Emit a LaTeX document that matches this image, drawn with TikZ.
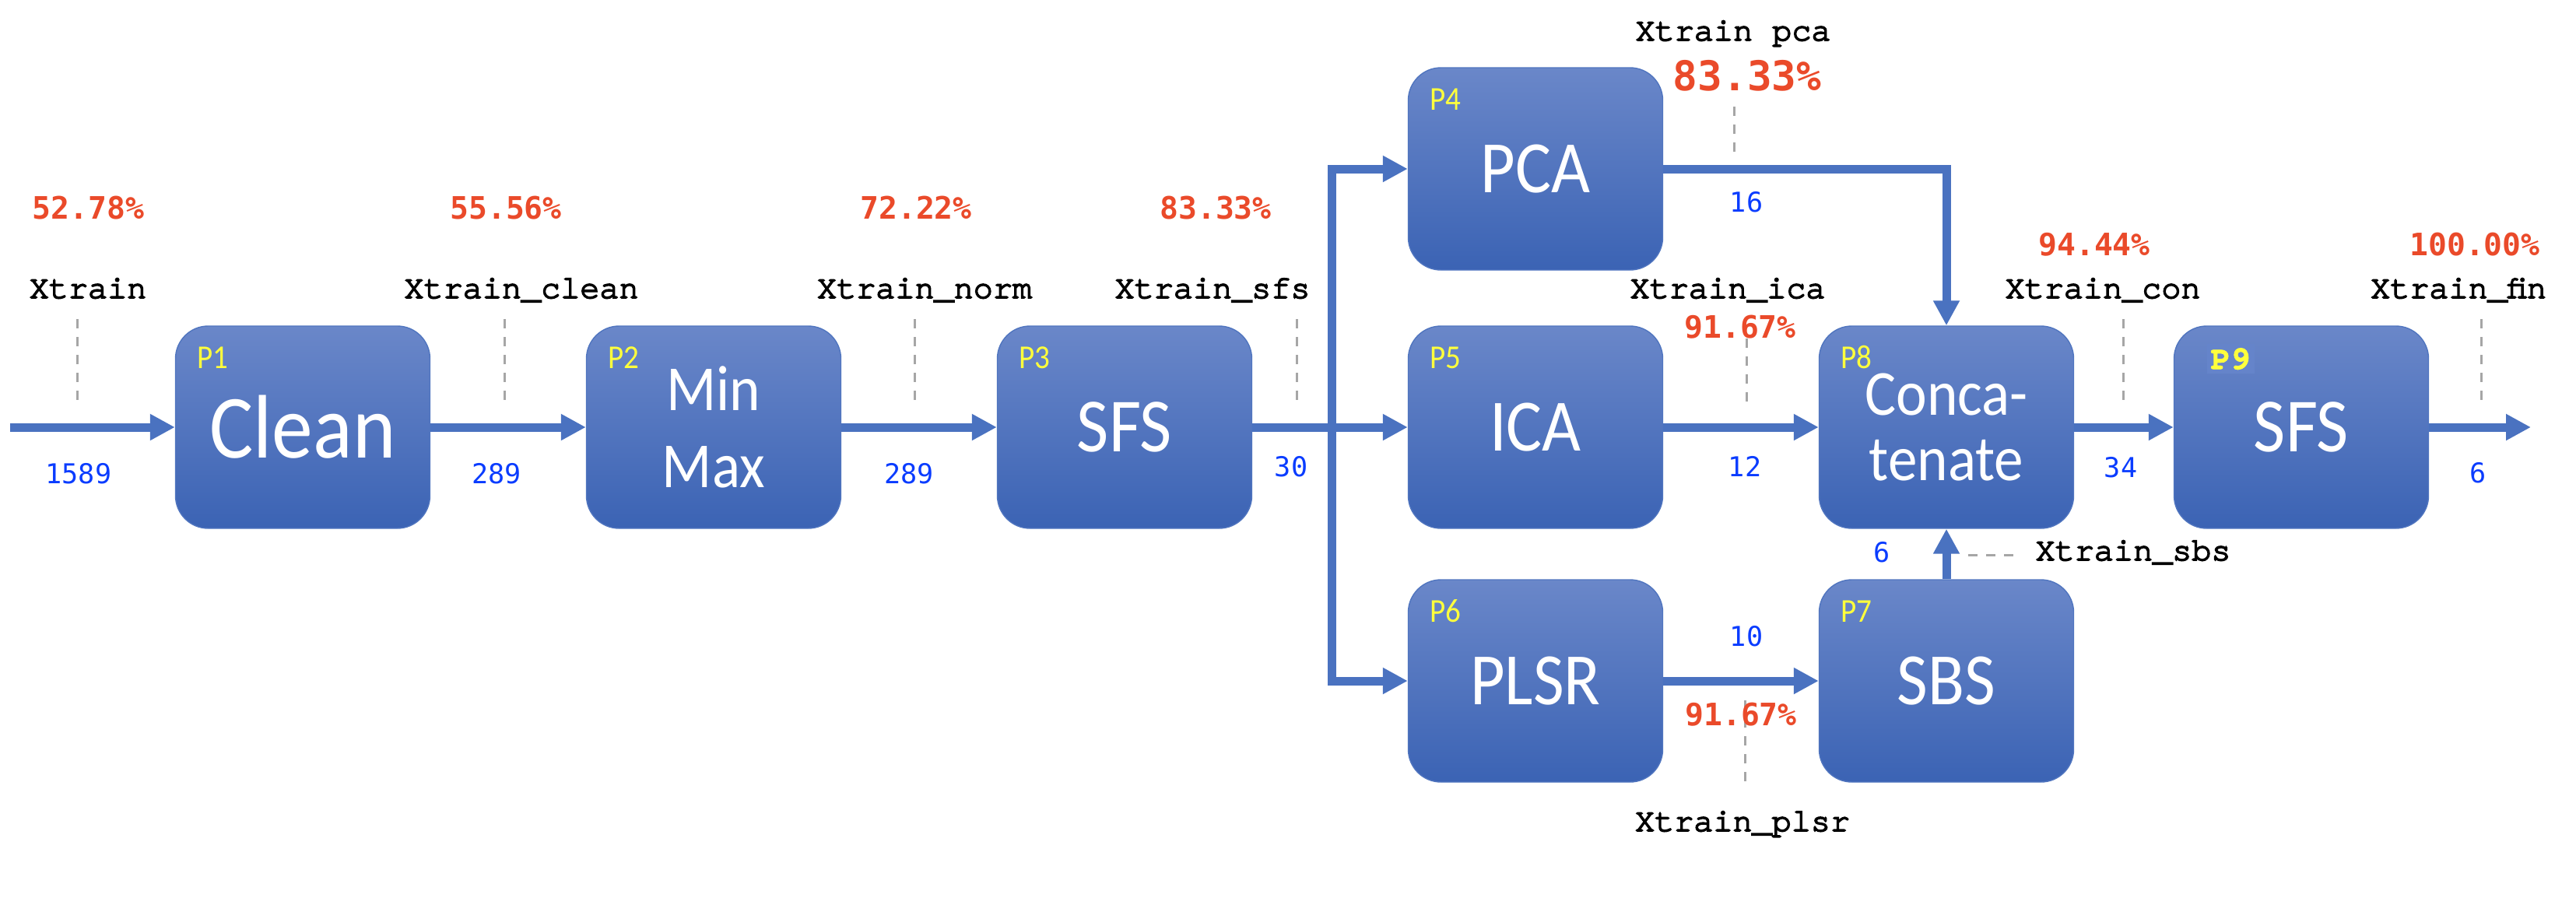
\documentclass[tikz,border=0pt]{standalone}
\usepackage{fontspec}
\usepackage{tikz}
\usetikzlibrary{
  positioning,
  calc,
  arrows.meta
}
\newfontfamily\boxfont[FakeStretch=0.91]{Carlito}
\newfontfamily\numfont{DejaVu Sans Mono}
\newfontfamily\codefont[FakeBold=4]{texgyrecursor-regular.otf}
\newfontfamily\codeboldfont[FakeBold=2]{texgyrecursor-bold.otf}
\definecolor{boxtop}{HTML}{6A87C9}
\definecolor{boxbottom}{HTML}{3B63B4}
\definecolor{boxline}{HTML}{5075BF}
\definecolor{flowblue}{HTML}{4A72C0}
\definecolor{scorered}{HTML}{EA4A2A}
\definecolor{featblue}{HTML}{0A3CFF}
\definecolor{tagyellow}{HTML}{FFFF3C}
\definecolor{tagpatch}{HTML}{6584CA}
\definecolor{guidegray}{HTML}{A6A6A6}
\tikzset{
  procbox/.style={draw=boxline, line width=0.4pt, top color=boxtop, bottom color=boxbottom,
    rounded corners=0.42cm, minimum width=3.27cm, minimum height=2.60cm, inner sep=0pt,
    text=white, align=center, font=\boxfont\fontsize{27}{32}\selectfont},
  ptag/.style={anchor=base west, inner sep=0pt, text=tagyellow, font=\boxfont\fontsize{12.2}{14}\selectfont},
  flow/.style={draw=flowblue, line width=0.11cm, -{Triangle[length=0.32cm,width=0.32cm]}},
  guide/.style={draw=guidegray, line width=0.03cm, dash pattern=on 0.12cm off 0.11cm},
  score/.style={inner sep=0pt, text=scorered, font=\numfont\bfseries\fontsize{11.3}{13}\selectfont},
  featnum/.style={anchor=base, inner sep=0pt, text=featblue, font=\numfont\fontsize{10}{12}\selectfont},
  varname/.style={anchor=base, inner sep=0pt, font=\codefont\fontsize{11.9}{14}\selectfont}
}

\begin{document}
\begin{tikzpicture}
    \def\rowA{9.45}
    \def\rowB{6.13}
    \def\rowC{2.87}
    \useasboundingbox (0,0) rectangle (33.10,11.62);

    % 処理ボックス
    \node[procbox, font=\boxfont\fontsize{33}{38}\selectfont] (clean) at (3.89,\rowB) {Clean};
    \node[procbox, font=\boxfont\fontsize{23.5}{28}\selectfont] (minmax) at (9.17,\rowB) {Min\\Max};
    \node[procbox, font=\boxfont\fontsize{28}{32}\selectfont] (sfsA) at (14.45,\rowB) {SFS};
    \node[procbox] (pca) at (19.73,\rowA) {PCA};
    \node[procbox] (ica) at (19.73,\rowB) {ICA};
    \node[procbox] (plsr) at (19.73,\rowC) {PLSR};
    \node[procbox] (sbs) at (25.01,\rowC) {SBS};
    \node[procbox, font=\boxfont\fontsize{23.5}{24}\selectfont] (concat) at (25.01,\rowB) {Conca-\\tenate};
    \node[procbox, font=\boxfont\fontsize{28}{32}\selectfont] (sfsB) at (29.57,\rowB) {SFS};

    % ボックス番号
    \foreach \nm/\tag in {clean/P1, minmax/P2, sfsA/P3, pca/P4, ica/P5, plsr/P6, sbs/P7, concat/P8}
      \node[ptag] (tag\nm) at ($(\nm.north west)+(0.28,-0.55)$) {\tag};
    \node[ptag, fill=tagpatch, inner sep=1.5pt, font=\codeboldfont\fontsize{12}{14}\selectfont]
      (tagsfsB) at ($(sfsB.north west)+(0.42,-0.56)$) {P9};

    % 点線
    \foreach \n/\x in {a/0.99, b/6.48, c/11.75, d/16.66, e/27.28, f/31.88} {
      \coordinate (g\n top) at (\x,7.52);
      \coordinate (g\n bot) at (\x,6.42);
      \draw[guide] (g\n top) -- (g\n bot);
    }
    \foreach \n/\x/\yt/\yb in {pca/22.28/10.25/9.64, ica/22.44/7.27/6.37, plsr/22.42/2.62/1.50} {
      \coordinate (g\n top) at (\x,\yt);
      \coordinate (g\n bot) at (\x,\yb);
      \draw[guide] (g\n top) -- (g\n bot);
    }
    \coordinate (gsbs left) at (25.29,4.49);
    \coordinate (gsbs right) at (25.87,4.49);
    \draw[guide] (gsbs left) -- (gsbs right);

    % 矢印
    \coordinate (in) at (0.13,\rowB);
    \coordinate (split) at (17.11,\rowB);
    \coordinate (out) at (32.52,\rowB);
    \draw[flow] (in) -- (clean.west);
    \draw[flow] (clean.east) -- (minmax.west);
    \draw[flow] (minmax.east) -- (sfsA.west);
    \draw[flow] (sfsA.east) -- (ica.west);
    \draw[flow] (split) |- (pca.west);
    \draw[flow] (split) |- (plsr.west);
    \draw[flow] (pca.east) -| (concat.north);
    \draw[flow] (ica.east) -- (concat.west);
    \draw[flow] (plsr.east) -- (sbs.west);
    \draw[flow] (sbs.north) -- (concat.south);
    \draw[flow] (concat.east) -- (sfsB.west);
    \draw[flow] (sfsB.east) -- (out);

    % 精度
    \node[score] (accraw) at (1.135,8.95) {52.78\%};
    \node[score] (accclean) at (6.50,8.95) {55.56\%};
    \node[score] (accnorm) at (11.77,8.95) {72.22\%};
    \node[score] (accsfs) at (15.62,8.95) {83.33\%};
    \node[score, font=\numfont\bfseries\fontsize{15}{18}\selectfont] (accpca) at (22.45,10.65) {83.33\%};
    \node[score] (accica) at (22.36,7.42) {91.67\%};
    \node[score] (accplsr) at (22.37,2.44) {91.67\%};
    \node[score] (acccon) at (26.91,8.48) {94.44\%};
    \node[score] (accfin) at (31.80,8.48) {100.00\%};

    % 変数名
    \node[varname] (xraw) at (1.13,7.79) {Xtrain};
    \node[varname] (xclean) at (6.70,7.79) {Xtrain\_clean};
    \node[varname] (xnorm) at (11.88,7.79) {Xtrain\_norm};
    \node[varname] (xsfs) at (15.58,7.79) {Xtrain\_sfs};
    \node[varname] (xpca) at (22.27,11.10) {Xtrain pca};
    \node[varname] (xica) at (22.20,7.79) {Xtrain\_ica};
    \node[varname] (xcon) at (27.02,7.79) {Xtrain\_con};
    \node[varname] (xfin) at (31.59,7.79) {Xtrain\_fin};
    \node[varname] (xsbs) at (27.41,4.42) {Xtrain\_sbs};
    \node[varname] (xplsr) at (22.39,0.94) {Xtrain\_plsr};

    % 特徴量の次元
    \node[featnum] (nraw) at (1.01,5.41) {1589};
    \node[featnum] (nclean) at (6.38,5.41) {289};
    \node[featnum] (nnorm) at (11.68,5.41) {289};
    \node[featnum] (nsfs) at (16.59,5.50) {30};
    \node[featnum] (npca) at (22.44,8.90) {16};
    \node[featnum] (nica) at (22.42,5.50) {12};
    \node[featnum] (nplsr) at (22.44,3.32) {10};
    \node[featnum] (nsbs) at (24.18,4.40) {6};
    \node[featnum] (ncon) at (27.25,5.49) {34};
    \node[featnum] (nfin) at (31.84,5.42) {6};
\end{tikzpicture}
\end{document}
